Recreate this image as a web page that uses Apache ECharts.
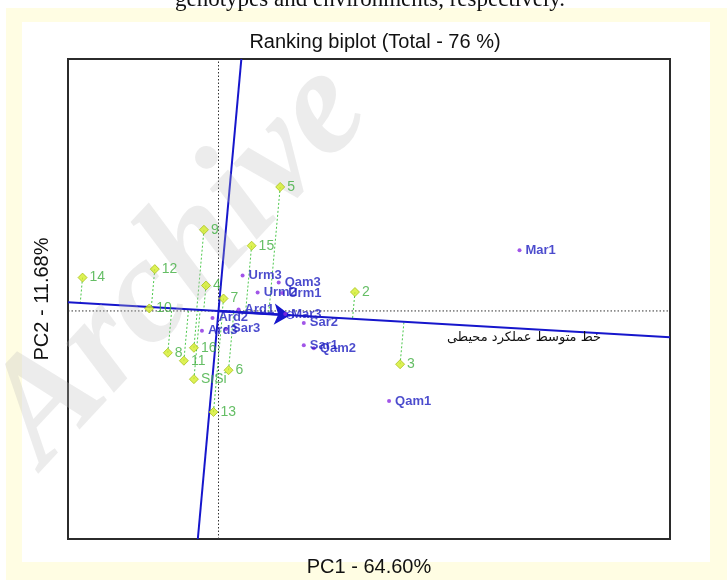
<!DOCTYPE html>
<html>
<head>
<meta charset="utf-8">
<script src="https://cdn.jsdelivr.net/npm/echarts@6/dist/echarts.min.js"></script>
<style>
html,body{margin:0;padding:0;background:#fff;}
#chart{width:727px;height:582px;}
</style>
</head>
<body>
<div id="chart"></div>
<script>
// ---- data (PC1, PC2 scores) ----
const genotypeNames = ['1','2','3','4','5','6','7','8','9','10','11','12','13','14','15','16'];
const genotypePC1 = [-0.49, 2.72, 3.62, -0.25, 1.23, 0.20, 0.10, -1.01, -0.29, -1.38, -0.69, -1.27, -0.10, -2.71, 0.66, -0.49];
const genotypePC2 = [-1.37, 0.38, -1.07, 0.51, 2.49, -1.19, 0.25, -0.84, 1.63, 0.05, -1.00, 0.84, -2.03, 0.67, 1.31, -0.74];
const genotypeLabels = ['S\u0131Si','2','3','4','5','6','7','8','9','10','11','12','13','14','15','16'];

const envNames = ['Mar1','Qam1','Qam2','Sar1','Sar2','Qam3','Urm1','Urm2','Urm3','Ard1','Mar3','Ard2','Ard3','Sar3'];
const envPC1 = [6.00, 3.40, 1.90, 1.70, 1.70, 1.20, 1.27, 0.78, 0.48, 0.40, 1.33, -0.12, -0.33, 0.15];
const envPC2 = [1.22, -1.81, -0.75, -0.69, -0.24, 0.57, 0.36, 0.37, 0.71, 0.03, -0.06, -0.14, -0.40, -0.36];
const envLabels = ['Mar1','Qam1','Qam2','Sar1','Sar2','Qam3','Urm1','Urm2','Urm3','Ard1','Mar3','Ard2','Ard3','Sar3'];

const averageEnv = [1.43, -0.084];      // average environment coordinate (arrow tip)
const ordinateDir = [0.09, 1];          // direction of the AEC ordinate
const xRange = [-3, 9];
const yRange = [-4.58, 5.06];

const titleText = 'Ranking biplot (Total - 76 %)';
const xAxisName = 'PC1 - 64.60%';
const yAxisName = 'PC2 - 11.68%';
const aecLabel = 'خط متوسط عملکرد محیطی';
const captionText = 'genotypes and environments, respectively.';

// ---- derived ----
const slope = averageEnv[1] / averageEnv[0];
const abscissa = [[xRange[0], slope * xRange[0]], [xRange[1], slope * xRange[1]]];
const ordinate = [[ordinateDir[0] / ordinateDir[1] * yRange[0], yRange[0]], [ordinateDir[0] / ordinateDir[1] * yRange[1], yRange[1]]];

const projSeries = genotypePC1.map((gx, i) => {
  const gy = genotypePC2[i];
  const t = (slope * gx - gy) / (ordinateDir[1] - slope * ordinateDir[0]);
  return {
    type: 'line', data: [[gx, gy], [gx + t * ordinateDir[0], gy + t * ordinateDir[1]]],
    symbol: 'none', showSymbol: false, silent: true, z: 1,
    lineStyle: { color: '#4cc84c', width: 1, type: [2, 2] }
  };
});

const chart = echarts.init(document.getElementById('chart'), null, { renderer: 'canvas' });
const GREEN = '#3fae3f';
const BLUE = '#1616cc';
const ENV_LABEL = '#1e1ec0';

chart.setOption({
  animation: false,
  backgroundColor: 'transparent',
  title: {
    text: titleText, left: 370, top: 27, textAlign: 'center',
    textStyle: { fontFamily: 'Liberation Sans', fontSize: 20, fontWeight: 'normal', color: '#111' }
  },
  grid: { left: 68, top: 59, width: 602, height: 484, show: true, borderColor: '#2b2b2b', borderWidth: 2, backgroundColor: 'transparent' },
  xAxis: {
    type: 'value', min: xRange[0], max: xRange[1],
    axisLine: { show: false }, axisTick: { show: false }, axisLabel: { show: false }, splitLine: { show: false },
    name: xAxisName, nameLocation: 'middle', nameGap: 18,
    nameTextStyle: { fontFamily: 'Liberation Sans', fontSize: 20, color: '#111' }
  },
  yAxis: {
    type: 'value', min: yRange[0], max: yRange[1],
    axisLine: { show: false }, axisTick: { show: false }, axisLabel: { show: false }, splitLine: { show: false },
    name: yAxisName, nameLocation: 'middle', nameGap: 16, nameRotate: 90,
    nameTextStyle: { fontFamily: 'Liberation Sans', fontSize: 20, color: '#111' }
  },
  graphic: [
    { type: 'rect', shape: { x: 6, y: 8, width: 721, height: 572 }, style: { fill: '#fffde3' }, z: -10 },
    { type: 'rect', shape: { x: 22, y: 22, width: 688, height: 540 }, style: { fill: '#ffffff' }, z: -9 },
    { type: 'text', x: 370, y: -12, z: -8,
      style: { text: captionText, fill: '#111', font: '23px "Liberation Serif"', textAlign: 'center', textVerticalAlign: 'top' } },
    { type: 'text', x: 180, y: 265, rotation: 0.82, z: 5, silent: true,
      style: { text: 'Archive', fill: 'rgba(185,185,185,0.28)', font: 'italic bold 150px "Liberation Serif"', textAlign: 'center', textVerticalAlign: 'middle' } },
    { type: 'text', x: 524, y: 338, z: 6,
      style: { text: aecLabel, fill: '#111', font: '13px "DejaVu Sans"', textAlign: 'center', textVerticalAlign: 'middle' } }
  ],
  series: [
    { type: 'line', data: [[0, yRange[0]], [0, yRange[1]]], symbol: 'none', silent: true, z: 1,
      lineStyle: { color: '#333', width: 1, type: [1.5, 2] } },
    { type: 'line', data: [[xRange[0], 0], [xRange[1], 0]], symbol: 'none', silent: true, z: 1,
      lineStyle: { color: '#333', width: 1, type: [1.5, 2] } },
    ...projSeries,
    { type: 'line', data: abscissa, symbol: 'none', silent: true, z: 3, lineStyle: { color: BLUE, width: 2 } },
    { type: 'line', data: ordinate, symbol: 'none', silent: true, z: 3, lineStyle: { color: BLUE, width: 2 } },
    { type: 'lines', coordinateSystem: 'cartesian2d', z: 4, silent: true,
      symbol: ['none', 'arrow'], symbolSize: [12, 16],
      data: [{ coords: [[0, 0], averageEnv] }],
      lineStyle: { color: BLUE, width: 2.5, opacity: 1 } },
    { type: 'scatter', data: [averageEnv], symbol: 'circle', symbolSize: 7, z: 4,
      itemStyle: { color: 'transparent', borderColor: BLUE, borderWidth: 1 } },
    { type: 'scatter', z: 5,
      data: genotypePC1.map((x, i) => ({ value: [x, genotypePC2[i]], name: genotypeLabels[i] })),
      symbol: 'diamond', symbolSize: [9, 9],
      itemStyle: { color: '#d6ee2a', borderColor: '#a8c21a', borderWidth: 1 },
      label: { show: true, position: 'right', distance: 2, formatter: p => p.name,
        fontFamily: 'Liberation Sans', fontSize: 14, color: GREEN } },
    { type: 'scatter', z: 5,
      data: envPC1.map((x, i) => ({ value: [x, envPC2[i]], name: envLabels[i] })),
      symbol: 'circle', symbolSize: 4,
      itemStyle: { color: '#8a2be2' },
      label: { show: true, position: 'right', distance: 4, formatter: p => p.name,
        fontFamily: 'Liberation Sans', fontSize: 13, fontWeight: 'bold', color: ENV_LABEL } }
  ]
});
</script>
</body>
</html>
